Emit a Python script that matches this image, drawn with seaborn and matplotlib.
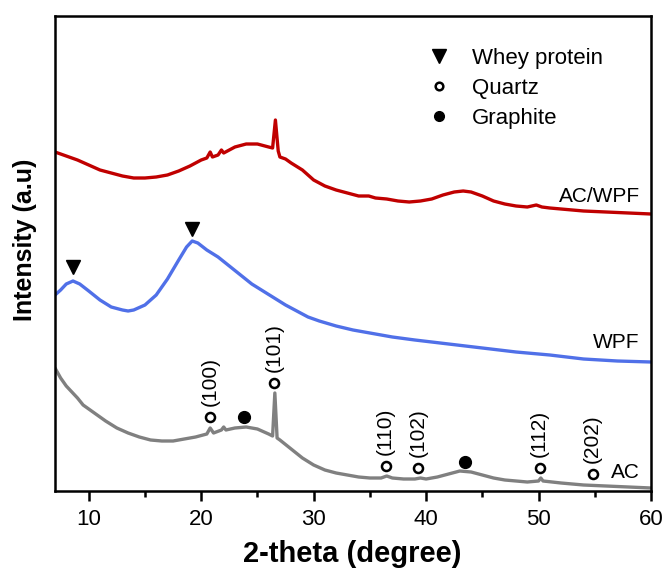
"""XRD patterns of AC, WPF and AC/WPF with phase markers."""

import matplotlib.pyplot as plt
import pandas as pd
import seaborn as sns
from matplotlib.lines import Line2D
from matplotlib.ticker import MultipleLocator

# --- data (2-theta in degrees, intensity in a.u.) ---
two_theta_acwpf = [7.0, 8, 9, 10, 11, 12, 13, 14, 15, 16, 17, 18, 19, 20, 20.5, 20.8,
                   21.0, 21.5, 21.8, 22.0, 23, 24, 25, 26, 26.35, 26.6, 26.85, 27.0,
                   27.5, 28, 29, 30, 31, 32, 33, 34, 34.9, 35.5, 36.5, 37.5, 38.5,
                   39.5, 40.5, 41.5, 42.5, 43.3, 44, 45, 46, 47, 48, 49, 49.8, 50.3,
                   51, 52, 54, 56, 58, 60]
intensity_acwpf = [339, 335, 331, 326, 321, 318, 315, 313, 313, 314, 316, 320, 325, 331,
                   333, 339, 334, 336, 341, 338, 344, 347, 347, 344, 343, 371, 340, 334,
                   332, 328, 321, 311, 305, 301, 298, 295, 295, 293, 292, 290, 289,
                   290, 292, 296, 299, 300, 299, 295, 290, 287, 285, 284, 286, 284,
                   283, 282, 280, 279, 278, 277]

two_theta_wpf = [7.0, 7.5, 8.0, 8.6, 9.2, 10, 11, 12, 13, 13.5, 14, 15, 16, 17, 18, 18.7,
                 19.2, 19.7, 20.5, 21.5, 22.5, 23.5, 24.5, 25.5, 26.5, 27.5, 28.5, 29.5,
                 30.5, 32, 33.5, 35, 37, 39, 42, 45, 48, 51, 54, 57, 60]
intensity_wpf = [196, 201, 207, 210, 207, 200, 191, 184, 181, 180, 181, 186, 196, 212,
                 231, 244, 250, 248, 241, 234, 225, 216, 207, 200, 193, 186, 180, 174,
                 170, 165, 161, 158, 154, 151, 147, 143, 139, 136, 132, 130, 129]

two_theta_ac = [7.0, 7.5, 8.0, 9.0, 9.5, 10.5, 11.5, 12.5, 13.5, 14.5, 15.5, 16.5, 17.5,
                18.5, 19.5, 20.5, 20.8, 21.1, 21.8, 22.0, 22.2, 23, 24, 25, 26, 26.35,
                26.55, 26.75, 27.0, 28, 29, 30, 31, 32, 33, 34, 35, 36, 36.5, 37, 38,
                39, 39.5, 40, 41, 42, 43, 44, 45, 46, 47, 48, 49, 50, 50.2, 50.4, 52,
                54, 56, 58, 60]
intensity_ac = [123, 113, 105, 93, 86, 78, 70, 63, 58, 54, 51, 50, 50, 52, 54, 57, 63,
                58, 61, 64, 61, 63, 64, 62, 57, 55, 98, 53, 51, 42, 33, 26, 21, 18, 16,
                14, 13, 13, 15, 13, 12, 12, 13, 12, 14, 17, 20, 19, 16, 13, 11, 10, 9,
                10, 13, 10, 8, 6, 5, 4, 3]

# phase markers
whey_x = [8.6, 19.2]
whey_y = [224, 262]
quartz_x = [20.8, 26.5, 36.4, 39.3, 50.1, 54.8]
quartz_y = [74, 108, 25, 23, 23, 17]
quartz_hkl = ["(100)", "(101)", "(110)", "(102)", "(112)", "(202)"]
graphite_x = [23.8, 43.5]
graphite_y = [74, 29]

# curve labels
sample_names = ["AC/WPF", "WPF", "AC"]
sample_label_y = [294, 148, 18]
sample_colors = ["#C00000", "#5070E8", "#808080"]

sns.set_style("white")
plt.rcParams["font.family"] = ["Liberation Sans", "DejaVu Sans"]
plt.rcParams["text.color"] = "black"
plt.rcParams["axes.labelcolor"] = "black"
plt.rcParams["xtick.color"] = "black"

fig = plt.figure(figsize=(6.63, 5.76), dpi=100)
ax = fig.add_axes([55 / 663, 1 - 491 / 576, 596 / 663, 475 / 576])

curves = [
    (two_theta_acwpf, intensity_acwpf),
    (two_theta_wpf, intensity_wpf),
    (two_theta_ac, intensity_ac),
]
for (tt, inten), color in zip(curves, sample_colors):
    df = pd.DataFrame({"two_theta": tt, "intensity": inten})
    sns.lineplot(data=df, x="two_theta", y="intensity", color=color, lw=2.4,
                 estimator=None, sort=False, ax=ax)

for name, ly in zip(sample_names, sample_label_y):
    ax.text(59.0, ly, name, ha="right", va="center", fontsize=15)

# markers
ax.plot(whey_x, whey_y, ls="none", marker="v", ms=10, color="black")
ax.plot(quartz_x, quartz_y, ls="none", marker="o", ms=6.5, mfc="white",
        mec="black", mew=1.8)
ax.plot(graphite_x, graphite_y, ls="none", marker="o", ms=8.5, color="black")
for qx, qy, hkl in zip(quartz_x, quartz_y, quartz_hkl):
    ax.annotate(hkl, (qx, qy), xytext=(0, 8), textcoords="offset points",
                rotation=90, ha="center", va="bottom", fontsize=15)

# legend
handles = [
    Line2D([], [], ls="none", marker="v", ms=10, color="black"),
    Line2D([], [], ls="none", marker="o", ms=5.5, mfc="white", mec="black", mew=1.8),
    Line2D([], [], ls="none", marker="o", ms=7, color="black"),
]
ax.legend(handles, ["Whey protein", "Quartz", "Graphite"], loc="upper left",
          bbox_to_anchor=(0.592, 0.975), frameon=False, fontsize=16,
          handlelength=1.0, handletextpad=1.0, labelspacing=0.41)

ax.set_xlim(7, 60)
ax.set_ylim(0, 475)
ax.xaxis.set_major_locator(MultipleLocator(10))
ax.xaxis.set_minor_locator(MultipleLocator(5))
ax.set_yticks([])
ax.tick_params(axis="x", which="major", direction="out", length=7, width=1.8,
               labelsize=16, pad=6, bottom=True)
ax.tick_params(axis="x", which="minor", direction="out", length=4, width=1.8,
               bottom=True)
for spine in ax.spines.values():
    spine.set_visible(True)
    spine.set_color("black")
    spine.set_linewidth(1.8)

ax.set_xlabel("2-theta (degree)", fontsize=21, fontweight="bold")
ax.set_ylabel("Intensity (a.u)", fontsize=18, fontweight="bold")
ax.xaxis.set_label_coords(0.498, -0.103)
ax.yaxis.set_label_coords(-0.03, 0.528)

fig.savefig("out.png", dpi=100)
plt.close(fig)
